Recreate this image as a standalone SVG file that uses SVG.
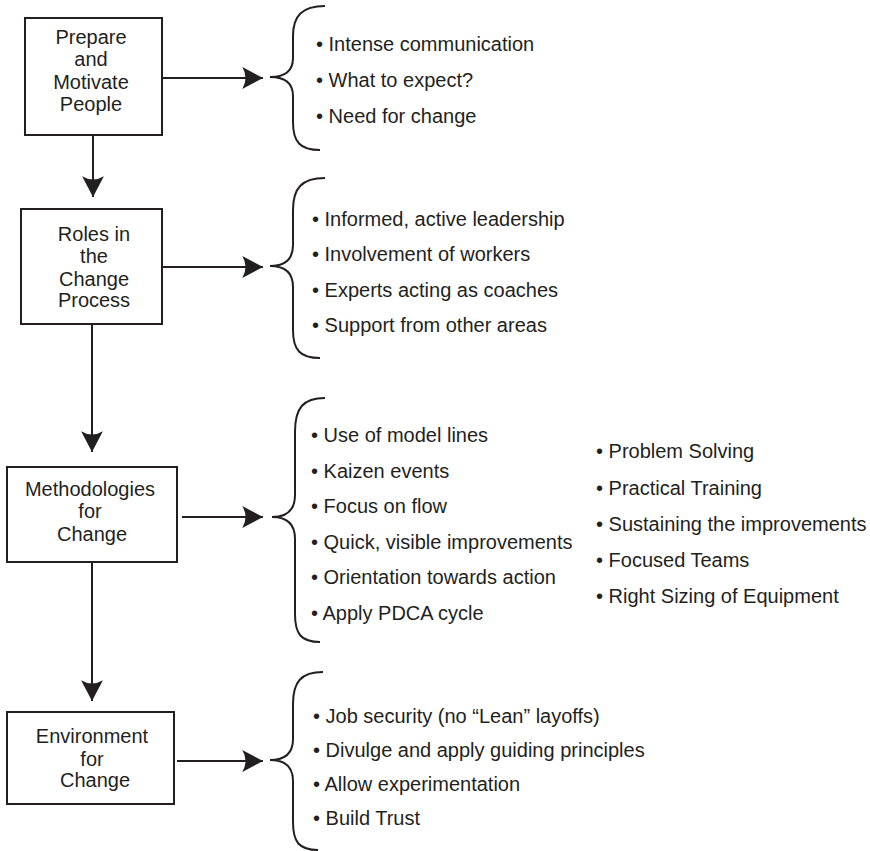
<svg xmlns="http://www.w3.org/2000/svg" width="870" height="851" viewBox="0 0 870 851">
<defs>
<style>
.box{fill:#fff;stroke:#231f20;stroke-width:2}
.t{font-family:"Liberation Sans",Arial,sans-serif;font-size:20px;fill:#231f20}
.c{text-anchor:middle}
.ln{stroke:#231f20;stroke-width:2;fill:none}
.br{stroke:#231f20;stroke-width:2;fill:none}
</style>
<marker id="ah" markerUnits="userSpaceOnUse" markerWidth="24" markerHeight="24" viewBox="-20 -11 22 22" refX="0" refY="0" orient="auto">
<path d="M0,0 L-19,-10 Q-13,0 -19,10 Z" fill="#231f20"/>
</marker>
</defs>
<rect width="870" height="851" fill="#fff"/>

<g id="connectors">
<line class="ln" x1="93" y1="135" x2="93" y2="197" marker-end="url(#ah)"/>
<line class="ln" x1="92" y1="324" x2="92" y2="452" marker-end="url(#ah)"/>
<line class="ln" x1="92" y1="562" x2="92" y2="701" marker-end="url(#ah)"/>
<line class="ln" x1="162" y1="78" x2="263" y2="78" marker-end="url(#ah)"/>
<line class="ln" x1="162" y1="267" x2="263" y2="267" marker-end="url(#ah)"/>
<line class="ln" x1="182" y1="517" x2="263" y2="517" marker-end="url(#ah)"/>
<line class="ln" x1="177" y1="761" x2="263" y2="761" marker-end="url(#ah)"/>
</g>

<g id="node-prepare">
<rect class="box" x="25" y="18" width="137" height="117"/>
<text class="t c" x="91" y="44">Prepare</text>
<text class="t c" x="91" y="66">and</text>
<text class="t c" x="91" y="89">Motivate</text>
<text class="t c" x="91" y="111">People</text>
</g>
<g id="node-roles">
<rect class="box" x="21" y="209" width="141" height="115"/>
<text class="t c" x="94" y="241">Roles in</text>
<text class="t c" x="94" y="263">the</text>
<text class="t c" x="94" y="286">Change</text>
<text class="t c" x="94" y="307">Process</text>
</g>
<g id="node-methodologies">
<rect class="box" x="7" y="467" width="170" height="95"/>
<text class="t c" x="90" y="496">Methodologies</text>
<text class="t c" x="90" y="518">for</text>
<text class="t c" x="92" y="541">Change</text>
</g>
<g id="node-environment">
<rect class="box" x="7" y="712" width="167" height="92"/>
<text class="t c" x="92" y="743">Environment</text>
<text class="t c" x="92" y="766">for</text>
<text class="t c" x="95" y="787">Change</text>
</g>

<g id="list-prepare">
<path class="br" d="M325,6 C302,6 293,16 293,36 L293,58 C293,70 286,77 270,77 C286,77 293,84 293,96 L293,122 C293,142 300,150 320,150"/>
<text class="t" x="316" y="51">• Intense communication</text>
<text class="t" x="316" y="87">• What to expect?</text>
<text class="t" x="316" y="123">• Need for change</text>
</g>
<g id="list-roles">
<path class="br" d="M325,178 C302,178 293,188 293,210 L293,245 C293,258 286,266 270,266 C286,266 293,274 293,287 L293,330 C293,350 300,358 320,358"/>
<text class="t" x="312" y="226">• Informed, active leadership</text>
<text class="t" x="312" y="261">• Involvement of workers</text>
<text class="t" x="312" y="297">• Experts acting as coaches</text>
<text class="t" x="312" y="332">• Support from other areas</text>
</g>
<g id="list-methodologies">
<path class="br" d="M325,398 C303,398 295,408 295,432 L295,495 C295,509 288,517 272,517 C288,517 295,525 295,539 L295,614 C295,634 301,642 320,642"/>
<text class="t" x="311" y="442">• Use of model lines</text>
<text class="t" x="311" y="477.6">• Kaizen events</text>
<text class="t" x="311" y="513.2">• Focus on flow</text>
<text class="t" x="311" y="548.8">• Quick, visible improvements</text>
<text class="t" x="311" y="584.4">• Orientation towards action</text>
<text class="t" x="311" y="620">• Apply PDCA cycle</text>
<text class="t" x="596" y="458">• Problem Solving</text>
<text class="t" x="596" y="495">• Practical Training</text>
<text class="t" x="596" y="531">• Sustaining the improvements</text>
<text class="t" x="596" y="567">• Focused Teams</text>
<text class="t" x="596" y="603">• Right Sizing of Equipment</text>
</g>
<g id="list-environment">
<path class="br" d="M323,672 C301,672 293,682 293,704 L293,739 C293,752 286,760 270,760 C286,760 293,768 293,781 L293,822 C293,842 299,850 318,850"/>
<text class="t" x="313" y="723">• Job security (no “Lean” layoffs)</text>
<text class="t" x="313" y="757">• Divulge and apply guiding principles</text>
<text class="t" x="313" y="791">• Allow experimentation</text>
<text class="t" x="313" y="825">• Build Trust</text>
</g>
</svg>
